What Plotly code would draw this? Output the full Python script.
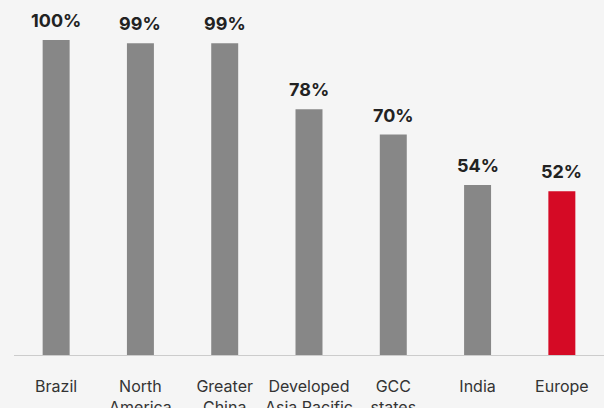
import plotly.graph_objects as go

regions = ["Brazil", "North<br>America", "Greater<br>China", "Developed<br>Asia Pacific", "GCC<br>states", "India", "Europe"]
shares = [100, 99, 99, 78, 70, 54, 52]
labels = ["100%", "99%", "99%", "78%", "70%", "54%", "52%"]

GRAY = "#878787"
RED = "#d50a25"
colors = [GRAY] * (len(regions) - 1) + [RED]

fig = go.Figure(
    go.Bar(
        x=regions,
        y=shares,
        marker=dict(color=colors, line=dict(width=0)),
        hoverinfo="skip",
    )
)

for r, v, t in zip(regions, shares, labels):
    fig.add_annotation(
        x=r, y=v, text=f"<b>{t}</b>", showarrow=False,
        yanchor="bottom", yshift=7,
        font=dict(family="Inter", size=18, color="#222222"),
    )

fig.update_layout(
    width=604, height=408,
    margin=dict(l=14, r=0, t=0, b=53),
    paper_bgcolor="#f5f5f5",
    plot_bgcolor="#f5f5f5",
    bargap=0.68,
    showlegend=False,
    font=dict(family="Inter", size=16, color="#333333"),
)
fig.update_xaxes(
    showline=True, linecolor="#cccccc", linewidth=1,
    ticks="", ticklabelstandoff=17, tickfont=dict(size=16, color="#333333"),
    showgrid=False, automargin=False,
)
fig.update_yaxes(range=[0, 112.7], visible=False, showgrid=False, zeroline=False)

fig.write_html("out.html")
